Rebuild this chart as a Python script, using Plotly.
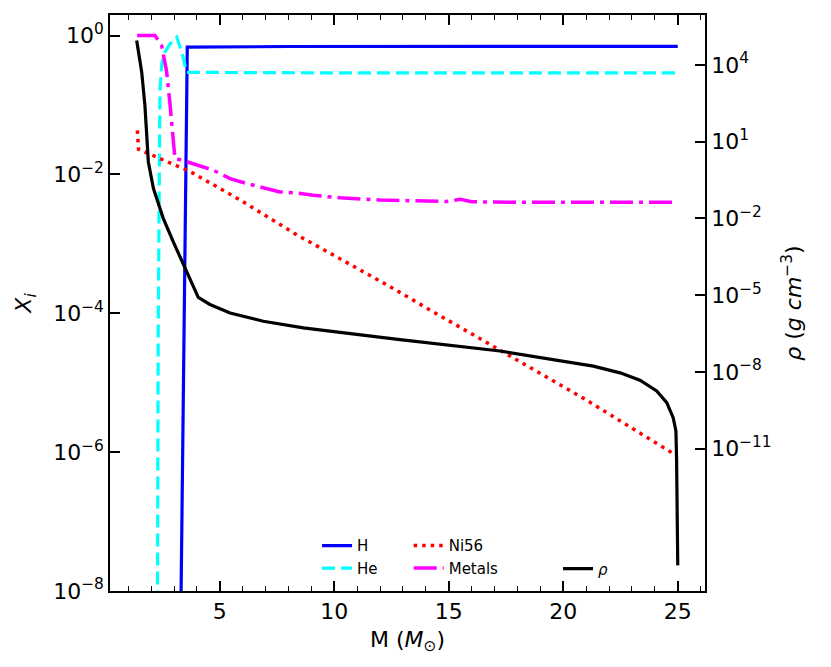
import plotly.graph_objects as go

# mass coordinate (M_sun) and mass fractions
m_h = [3.29, 3.58, 8.0, 15.0, 25.0]
x_h = [2.5e-9, 0.68, 0.695, 0.695, 0.70]

m_he = [2.27, 2.31, 2.37, 2.39, 2.47, 2.61, 2.83, 3.12, 3.34, 3.55, 10.0, 25.0]
x_he = [1e-9, 4.4e-5, 3.2e-2, 0.17, 0.40, 0.58, 0.76, 0.95, 0.58, 0.295, 0.29, 0.29]

m_ni = [1.40, 1.43, 1.45, 1.88, 2.24, 3.70, 5.88, 8.36, 10.1, 12.29,
        14.32, 17.6, 20.87, 24.66, 24.95]
x_ni = [4.3e-2, 3.0e-2, 2.3e-2, 2.0e-2, 1.78e-2, 1.1e-2, 4.3e-3, 1.35e-3,
        6.5e-4, 2.57e-4, 1.05e-4, 2.5e-5, 6.0e-6, 1.02e-6, 8.9e-7]

m_met = [1.39, 2.17, 2.46, 2.68, 2.83, 2.97, 3.04, 3.41, 4.72, 5.45, 6.17,
         7.63, 8.36, 9.08, 10.25, 12.0, 14.9, 15.5, 16.0, 17.8, 25.0]
x_met = [1.0, 1.0, 0.72, 0.30, 0.10, 3.2e-2, 1.7e-2, 1.58e-2, 1.15e-2,
         8.7e-3, 7.4e-3, 5.6e-3, 5.4e-3, 5.0e-3, 4.6e-3, 4.27e-3, 4.07e-3,
         4.37e-3, 4.03e-3, 3.98e-3, 3.98e-3]

# density profile (g cm^-3)
m_rho = [1.37, 1.59, 1.73, 1.81, 1.88, 2.10, 2.53, 2.97, 3.48, 4.06, 4.57,
         5.45, 6.90, 8.65, 10.25, 12.87, 17.24, 19.86, 21.31, 22.48, 23.35,
         24.08, 24.52, 24.80, 24.92, 24.95, 24.97, 25.0]
rho = [8.9e4, 5.2e3, 2.6e2, 1.3e1, 1.6, 1.5e-1, 1.0e-2, 1.2e-3, 1.1e-4,
       8.1e-6, 4.3e-6, 2.0e-6, 9.5e-7, 5.2e-7, 3.5e-7, 1.8e-7, 6.5e-8,
       2.8e-8, 1.66e-8, 9.1e-9, 4.7e-9, 1.8e-9, 6.2e-10, 1.6e-10, 4.9e-11,
       3.3e-12, 1e-13, 2.7e-16]

xi_ticks = [1, 1e-2, 1e-4, 1e-6, 1e-8]
xi_labels = ["10<sup>0</sup>", "10<sup>−2</sup>", "10<sup>−4</sup>",
             "10<sup>−6</sup>", "10<sup>−8</sup>"]
rho_ticks = [1e4, 1e1, 1e-2, 1e-5, 1e-8, 1e-11]
rho_labels = ["10<sup>4</sup>", "10<sup>1</sup>", "10<sup>−2</sup>",
              "10<sup>−5</sup>", "10<sup>−8</sup>", "10<sup>−11</sup>"]

FONT = "DejaVu Sans"

fig = go.Figure()
fig.add_trace(go.Scatter(x=m_h, y=x_h, mode="lines", name="H", legend="legend",
                         line=dict(color="#0000ff", width=3.2)))
fig.add_trace(go.Scatter(x=m_he, y=x_he, mode="lines", name="He", legend="legend",
                         line=dict(color="#00ffff", width=3.2, dash="13px,6px")))
fig.add_trace(go.Scatter(x=m_ni, y=x_ni, mode="lines", name="Ni56", legend="legend2",
                         line=dict(color="#ff0000", width=3.5, dash="3.5px,5px")))
fig.add_trace(go.Scatter(x=m_met, y=x_met, mode="lines", name="Metals", legend="legend2",
                         line=dict(color="#ff00ff", width=3.5, dash="23px,6px,4px,6px")))
fig.add_trace(go.Scatter(x=m_rho, y=rho, mode="lines", name="<i>ρ</i>", legend="legend3",
                         yaxis="y2", line=dict(color="black", width=3.2)))

axis_common = dict(showline=True, linecolor="black", linewidth=1.5,
                   ticks="inside", tickcolor="black", tickwidth=1.5, ticklen=10,
                   showgrid=False, zeroline=False,
                   tickfont=dict(family=FONT, size=22, color="black"))

leg = dict(font=dict(family=FONT, size=15, color="black"), bgcolor="rgba(0,0,0,0)",
           xanchor="left", yanchor="top", tracegroupgap=0)

# page is drawn with an 8px body offset, so the figure is a bit smaller
fig.update_layout(
    width=823, height=659,
    margin=dict(l=102, r=126, t=5, b=76),
    plot_bgcolor="white", paper_bgcolor="white",
    font=dict(family=FONT, color="black"),
    xaxis=dict(axis_common, range=[0.205, 26.19], dtick=5, tick0=0, mirror="ticks",
               minor=dict(dtick=1, ticks="inside", ticklen=5, tickwidth=1.2,
                          tickcolor="black", showgrid=False),
               title=dict(text="M (<i>M</i><sub>⊙</sub>)", standoff=8,
                          font=dict(family=FONT, size=22))),
    yaxis=dict(axis_common, type="log", range=[-8, 0.296],
               tickvals=xi_ticks, ticktext=xi_labels,
               title=dict(text="<i>X</i><sub><i>i</i></sub>",
                          font=dict(family=FONT, size=22))),
    yaxis2=dict(axis_common, type="log", range=[-16.57, 5.95], overlaying="y",
                side="right", tickvals=rho_ticks, ticktext=rho_labels,
                title=dict(text="<i>ρ</i> (<i>g</i> <i>cm</i><sup>−3</sup>)",
                           font=dict(family=FONT, size=22))),
    legend=dict(leg, x=0.348, y=0.107),
    legend2=dict(leg, x=0.502, y=0.107),
    legend3=dict(leg, x=0.753, y=0.067),
)

fig.write_html("out.html")
